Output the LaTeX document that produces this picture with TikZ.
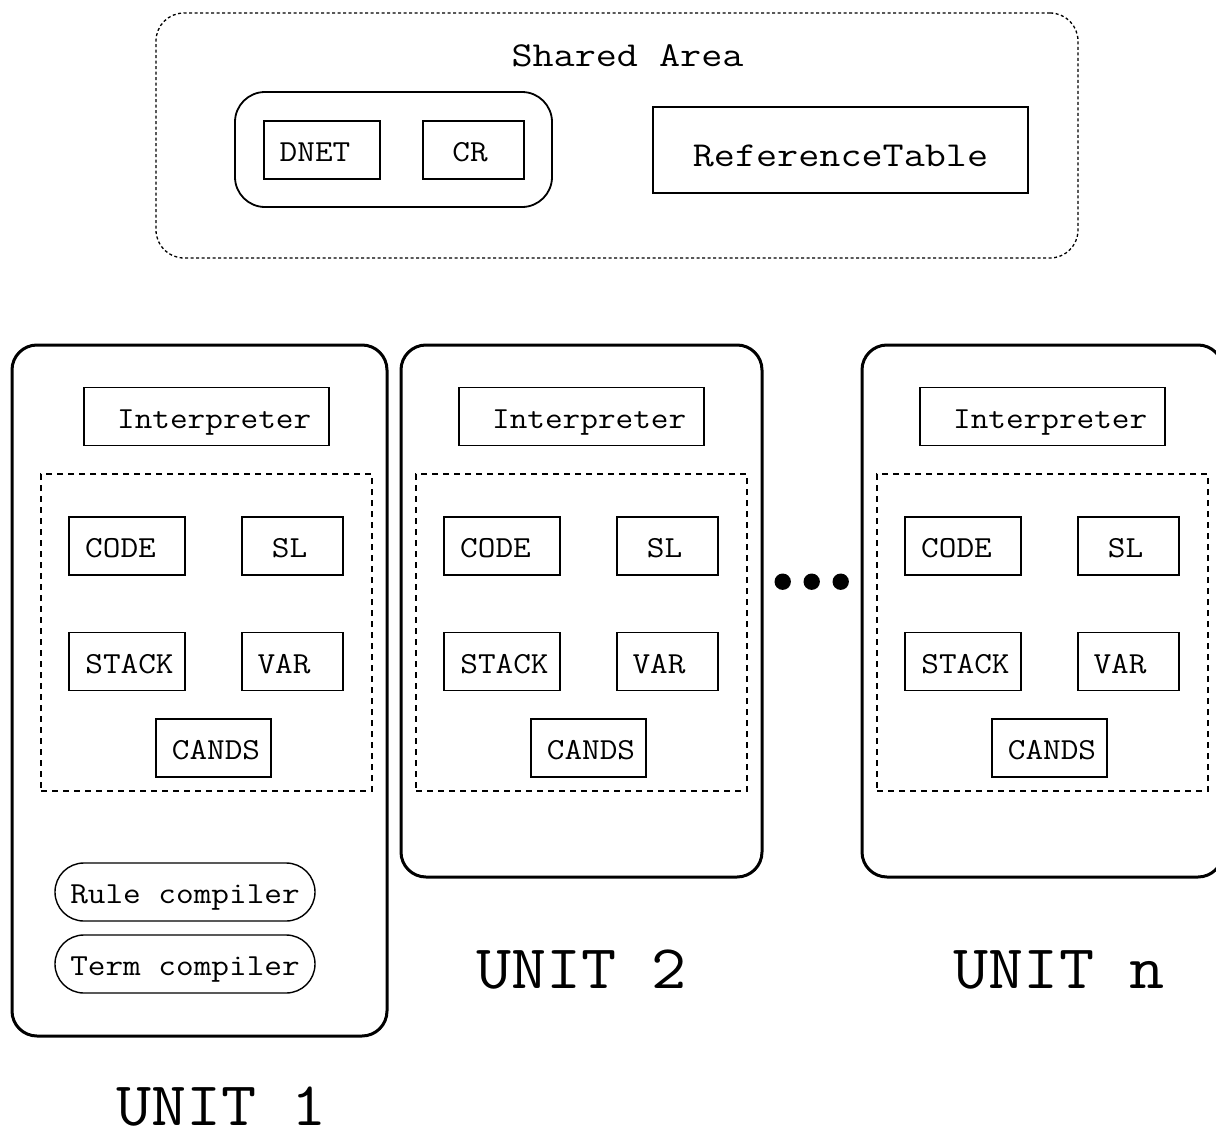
\documentclass[tikz,border=0pt]{standalone}
\usepackage{graphicx}
% wide typewriter lettering in three sizes
\newcommand{\smalltt}[1]{\scalebox{1.12}[1]{\ttfamily\fontsize{30.6}{36}\selectfont #1}}
\newcommand{\midtt}[1]{\scalebox{1.17}[1]{\ttfamily\fontsize{35}{42}\selectfont #1}}
\newcommand{\bigtt}[1]{\scalebox{1.10}[1]{\ttfamily\fontsize{62}{72}\selectfont #1}}
\begin{document}
\begin{tikzpicture}[x=1pt,y=-1pt,
  cell/.style={draw, line width=1.4pt, inner sep=0pt,
    text height=23.5pt, text depth=0pt, minimum height=58pt},
  unitbox/.style={draw, line width=3pt, rounded corners=25pt},
  store/.style={draw, line width=1.3pt, dash pattern=on 6pt off 5pt},
  pill/.style={cell, rounded corners=28.9pt, minimum width=260pt},
  unitlabel/.style={anchor=base, inner sep=0pt}]
\useasboundingbox (0,0) rectangle (1216,1135);

% shared area
\node[draw, line width=1.3pt, dash pattern=on 3pt off 2.5pt,
  rounded corners=28pt, minimum width=922pt, minimum height=245pt,
  inner sep=0pt] (shared) at (617,135.5) {};
\node[anchor=base, inner sep=0pt] (sharedtitle) at (627.5,66)
  {\midtt{Shared Area}};
\node[draw, line width=1.8pt, rounded corners=30pt, minimum width=317pt,
  minimum height=115pt, inner sep=0pt] (netgroup) at (393.5,149.5) {};
\node[cell, minimum width=116pt] (dnet) at (322,150) {\smalltt{DNET}\kern14pt};
\node[cell, minimum width=101pt] (cr) at (473.5,150) {\smalltt{CR}\kern7pt};
\node[cell, minimum width=375pt, minimum height=86pt, text height=33.4pt]
  (reftable) at (840.5,150) {\midtt{ReferenceTable}};

% processing units
\draw[unitbox] (12,345) rectangle (387,1036);
\draw[unitbox] (401,345) rectangle (762,877);
\draw[unitbox] (862,345) rectangle (1223,877);

\foreach \u/\dx in {1/-375, 2/0, n/461} {
  \begin{scope}[xshift=\dx]
    \node[cell, minimum width=245pt] (interp\u) at (581.5,416.5)
      {\kern15.4pt\smalltt{Interpreter}};
    \node[store, minimum width=331pt, minimum height=317pt, inner sep=0pt]
      (mem\u) at (581.5,632.5) {};
    \node[cell, minimum width=116pt] (code\u) at (502,546)
      {\smalltt{CODE}\kern13pt};
    \node[cell, minimum width=101pt] (sl\u) at (667.5,546)
      {\smalltt{SL}\kern6pt};
    \node[cell, minimum width=116pt] (stack\u) at (502,661.5)
      {\kern5pt\smalltt{STACK}};
    \node[cell, minimum width=101pt] (var\u) at (667.5,661.5)
      {\smalltt{VAR}\kern17pt};
    \node[cell, minimum width=115pt] (cands\u) at (588.5,748)
      {\kern5pt\smalltt{CANDS}};
  \end{scope}
}

\node[pill] (rulecomp) at (185,892) {\smalltt{Rule compiler}};
\node[pill] (termcomp) at (185,964) {\smalltt{Term compiler}};

% ellipsis between units
\fill (782.7,581.7) circle (8.2pt) (811.7,581.7) circle (8.2pt)
  (840.7,581.7) circle (8.2pt);

\node[unitlabel] (lab1) at (221.5,1125) {\bigtt{UNIT 1}};
\node[unitlabel] (lab2) at (581.5,988) {\bigtt{UNIT 2}};
\node[unitlabel] (labn) at (1059,988) {\bigtt{UNIT n}};
\end{tikzpicture}
\end{document}
